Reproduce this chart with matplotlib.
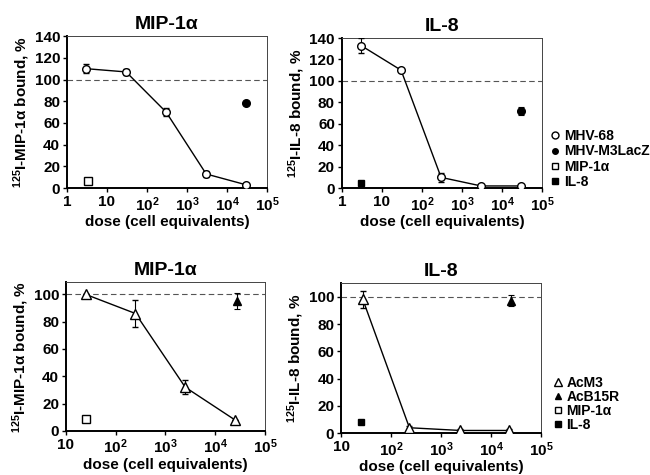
import matplotlib
matplotlib.use("Agg")
import matplotlib.pyplot as plt
from matplotlib.lines import Line2D

plt.rcParams["font.family"] = ["Liberation Sans", "DejaVu Sans"]
plt.rcParams["font.weight"] = "bold"
plt.rcParams["mathtext.fontset"] = "custom"
plt.rcParams["mathtext.rm"] = "Liberation Sans:bold"
plt.rcParams["mathtext.bf"] = "Liberation Sans:bold"
plt.rcParams["mathtext.default"] = "rm"

# top row: MHV-68 experiment
top_dose = [3, 30, 300, 3000, 30000]
top_mip_mhv68 = [110, 107, 70, 13, 3]
top_mip_mhv68_err = [4, 3, 4, 3, 1]
top_mip_lacz_dose = [30000]
top_mip_lacz = [78]
top_mip_ctrl_dose = [3.3]
top_mip_ctrl = [7]

top_il8_mhv68 = [133, 110, 10, 2, 2]
top_il8_mhv68_err = [7, 1, 4, 1, 1]
top_il8_lacz_dose = [30000]
top_il8_lacz = [72]
top_il8_lacz_err = [4]
top_il8_ctrl_dose = [3]
top_il8_ctrl = [5]

# bottom row: baculovirus experiment
bot_mip_dose = [25, 250, 2500, 25000]
bot_mip_acm3 = [100, 86, 32, 8]
bot_mip_acm3_err = [0, 10, 5, 0]
bot_mip_b15r_dose = [27000]
bot_mip_b15r = [95]
bot_mip_b15r_err = [6]
bot_mip_ctrl_dose = [25]
bot_mip_ctrl = [9]

bot_il8_dose = [27, 230, 2400, 22000]
bot_il8_acm3 = [98, 4, 2, 2]
bot_il8_acm3_err = [6, 1, 1, 1]
bot_il8_b15r_dose = [25000]
bot_il8_b15r = [97]
bot_il8_b15r_err = [4]
bot_il8_ctrl_dose = [25]
bot_il8_ctrl = [8]

top_legend = ["MHV-68", "MHV-M3LacZ", "MIP-1α", "IL-8"]
bot_legend = ["AcM3", "AcB15R", "MIP-1α", "IL-8"]


def dec_label(e):
  if e == 0:
    return "1"
  if e == 1:
    return "10"
  return "10$^{%d}$" % e


def style_axes(ax, title, ylabel, xmin_exp, yticks, ymax):
  ax.set_xscale("log")
  ax.set_xlim(10 ** xmin_exp, 1e5)
  ax.set_ylim(0, ymax)
  exps = list(range(xmin_exp, 6))
  ax.set_xticks([10 ** e for e in exps])
  ax.set_xticklabels([dec_label(e) for e in exps])
  ax.set_yticks(yticks)
  ax.tick_params(axis="both", labelsize=11, length=3, width=1, pad=2)
  ax.tick_params(axis="x", which="minor", length=1.5)
  ax.tick_params(axis="y", which="minor", length=0)
  for s in ["left", "bottom"]:
    ax.spines[s].set_linewidth(1.4)
  for s in ["top", "right"]:
    ax.spines[s].set_linewidth(0.7)
    ax.spines[s].set_color("#444444")
  ax.axhline(100, color="#555555", lw=0.8, ls=(0, (5, 3)), zorder=1)
  ax.set_title(title, fontsize=14, fontweight="bold", pad=5)
  ax.set_xlabel("dose (cell equivalents)", fontsize=11, fontweight="bold", labelpad=1)
  ax.set_ylabel(ylabel, fontsize=11, fontweight="bold", labelpad=2)


fig = plt.figure(figsize=(6.5, 4.75), dpi=100)
ax1 = fig.add_axes([0.103, 0.604, 0.308, 0.320])
ax2 = fig.add_axes([0.526, 0.604, 0.308, 0.316])
ax3 = fig.add_axes([0.1015, 0.093, 0.306, 0.313])
ax4 = fig.add_axes([0.525, 0.088, 0.308, 0.316])

ms = 5.5
eb = dict(ecolor="black", elinewidth=0.8, capsize=2, capthick=0.8)

# top left
ax1.errorbar(top_dose, top_mip_mhv68, yerr=top_mip_mhv68_err, color="black", lw=1,
             marker="o", ms=ms, mfc="white", mec="black", mew=1, zorder=3, **eb)
ax1.plot(top_mip_lacz_dose, top_mip_lacz, "o", color="black", ms=ms, zorder=3)
ax1.plot(top_mip_ctrl_dose, top_mip_ctrl, "s", mfc="white", mec="black", ms=ms, mew=1, zorder=3)
style_axes(ax1, "MIP-1α", "$^{125}$I-MIP-1α bound, %", 0, range(0, 141, 20), 140)

# top right
ax2.errorbar(top_dose, top_il8_mhv68, yerr=top_il8_mhv68_err, color="black", lw=1,
             marker="o", ms=ms, mfc="white", mec="black", mew=1, zorder=3, **eb)
ax2.errorbar(top_il8_lacz_dose, top_il8_lacz, yerr=top_il8_lacz_err, fmt="o", color="black",
             ms=ms, zorder=3, **eb)
ax2.plot(top_il8_ctrl_dose, top_il8_ctrl, "s", color="black", ms=ms - 0.5, zorder=3)
style_axes(ax2, "IL-8", "$^{125}$I-IL-8 bound, %", 0, range(0, 141, 20), 140)

# bottom left
ax3.errorbar(bot_mip_dose, bot_mip_acm3, yerr=bot_mip_acm3_err, color="black", lw=1,
             marker="^", ms=ms + 1, mfc="white", mec="black", mew=1, zorder=3, **eb)
ax3.errorbar(bot_mip_b15r_dose, bot_mip_b15r, yerr=bot_mip_b15r_err, fmt="^", color="black",
             ms=ms + 0.5, zorder=3, **eb)
ax3.plot(bot_mip_ctrl_dose, bot_mip_ctrl, "s", mfc="white", mec="black", ms=ms, mew=1, zorder=3)
style_axes(ax3, "MIP-1α", "$^{125}$I-MIP-1α bound, %", 1, range(0, 101, 20), 109)

# bottom right
ax4.errorbar(bot_il8_dose, bot_il8_acm3, yerr=bot_il8_acm3_err, color="black", lw=1,
             marker="^", ms=ms + 1, mfc="white", mec="black", mew=1, zorder=3, **eb)
ax4.errorbar(bot_il8_b15r_dose, bot_il8_b15r, yerr=bot_il8_b15r_err, fmt="^", color="black",
             ms=ms + 0.5, zorder=3, **eb)
ax4.plot(bot_il8_ctrl_dose, bot_il8_ctrl, "s", color="black", ms=ms - 0.5, zorder=3)
style_axes(ax4, "IL-8", "$^{125}$I-IL-8 bound, %", 1, range(0, 101, 20), 110)

# legends
top_handles = [
  Line2D([], [], ls="", marker="o", mfc="white", mec="black", ms=5),
  Line2D([], [], ls="", marker="o", color="black", ms=4),
  Line2D([], [], ls="", marker="s", mfc="white", mec="black", ms=5),
  Line2D([], [], ls="", marker="s", color="black", ms=5),
]
bot_handles = [
  Line2D([], [], ls="", marker="^", mfc="white", mec="black", ms=6),
  Line2D([], [], ls="", marker="^", color="black", ms=5),
  Line2D([], [], ls="", marker="s", mfc="white", mec="black", ms=5),
  Line2D([], [], ls="", marker="s", color="black", ms=5),
]
leg_kw = dict(frameon=False, loc="center left", handlelength=0.6, handletextpad=0.3,
              borderpad=0, borderaxespad=0, prop={"weight": "bold", "size": 10},
              bbox_transform=fig.transFigure)
fig.legend(top_handles, top_legend, bbox_to_anchor=(0.848, 0.665), labelspacing=0.1, **leg_kw)
fig.legend(bot_handles, bot_legend, bbox_to_anchor=(0.852, 0.15), labelspacing=0.0, **leg_kw)

fig.savefig("out.png", dpi=100)
